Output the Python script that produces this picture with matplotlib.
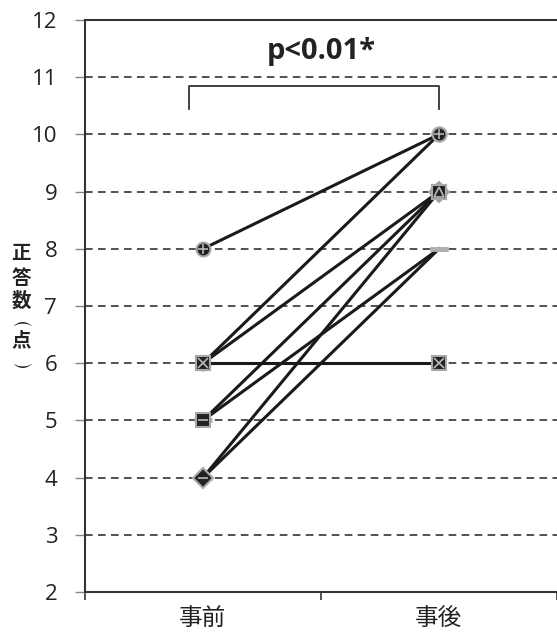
import matplotlib.pyplot as plt

plt.rcParams['font.family'] = ['Noto Sans CJK JP', 'DejaVu Sans']
plt.rcParams['mathtext.fontset'] = 'dejavusans'

# scores before / after for each participant
categories = ['事前', '事後']
pre = [4, 5, 4, 5, 6, 6, 8, 6]
post = [8, 8, 9, 9, 9, 10, 10, 6]
markers = ['_', '_', 'D', 's', 's', 'o', 'o', 's']
inner = [None, None, '_', '_', '^', '+', '+', 'x']
y_ticks = [2, 3, 4, 5, 6, 7, 8, 9, 10, 11, 12]
p_text = 'p<0.01*'
y_label = ['正', '答', '数', r'$\frown$', '点', r'$\smile$']

fig = plt.figure(figsize=(5.57, 6.37), dpi=100)
ax = fig.add_axes([0.1526, 0.0706, 0.8474, 0.898])

for a, b, m, im in zip(pre, post, markers, inner):
    if m == '_':
        ax.plot([0, 1], [a, b], color='#1a1a1a', lw=2.2, marker=m,
                markersize=13, markeredgecolor='#b0b0b0', markeredgewidth=3.5,
                zorder=3)
        continue
    ax.plot([0, 1], [a, b], color='#1a1a1a', lw=2.2, marker=m, markersize=10,
            markerfacecolor='#222222', markeredgecolor='#a8a8a8',
            markeredgewidth=1.5, zorder=3)
    ax.plot([0, 1], [a, b], ls='none', marker=im, markersize=7,
            markerfacecolor='none', markeredgecolor='#b8b8b8',
            markeredgewidth=1.2, zorder=3)

for y in y_ticks[1:-1]:
    ax.axhline(y, color='#222222', lw=1.1, ls=(0, (5, 3.5)), zorder=1)

ax.set_xlim(-0.5, 1.5)
ax.set_ylim(2, 12)
ax.set_yticks(y_ticks)
ax.set_xticks([0, 1])
ax.set_xticklabels(categories, fontsize=17, color='#222222')
ax.set_xticks([-0.5, 0.5, 1.5], minor=True)
ax.tick_params(axis='x', which='major', length=0, pad=11)
ax.tick_params(axis='x', which='minor', length=6, width=1.2, color='#333333')
ax.tick_params(axis='y', length=7, width=1, color='#888888', labelsize=16,
               labelcolor='#222222', pad=13)
for lbl in ax.get_yticklabels():
    lbl.set_family(['Open Sans', 'DejaVu Sans'])

for s in ['left', 'bottom', 'top']:
    ax.spines[s].set_color('#333333')
    ax.spines[s].set_linewidth(1.5)
ax.spines['right'].set_visible(False)

# significance bracket
ax.plot([-0.06, -0.06, 1.0, 1.0], [10.45, 10.85, 10.85, 10.45],
        color='#333333', lw=1.3, zorder=2)
ax.text(0.5, 11.45, p_text, ha='center', va='center', fontsize=21,
        fontweight='bold', color='#222222', family=['Open Sans', 'DejaVu Sans'])

# vertical y label, one character at a time
label_y = [254, 278, 301, 322, 341, 363]
for ch, py in zip(y_label, label_y):
    size = 14 if ch.startswith('$') else 14
    fig.text(21 / 557, 1 - py / 637, ch, ha='center', va='center',
             fontsize=size, fontweight='bold', color='#222222')

fig.savefig('out.png', dpi=100)
